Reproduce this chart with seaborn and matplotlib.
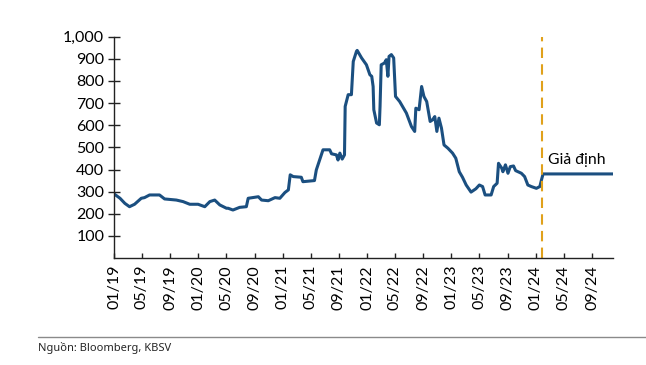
import numpy as np
import pandas as pd
import matplotlib
matplotlib.use("Agg")
import matplotlib.pyplot as plt
import matplotlib.dates as mdates
from matplotlib.ticker import FuncFormatter
import seaborn as sns

# Values
dates = [
    "2019-01-01", "2019-01-27", "2019-02-17", "2019-03-09", "2019-03-31", "2019-04-29",
    "2019-05-13", "2019-06-04", "2019-07-17", "2019-08-08", "2019-09-28", "2019-10-27",
    "2019-11-25", "2019-12-31", "2020-01-29", "2020-02-20", "2020-03-12", "2020-04-03",
    "2020-05-02", "2020-05-09", "2020-05-30", "2020-06-28", "2020-07-27", "2020-08-04",
    "2020-09-17", "2020-10-01", "2020-10-30", "2020-11-28", "2020-12-19", "2021-01-10",
    "2021-01-25", "2021-02-02", "2021-02-15", "2021-03-22", "2021-03-29", "2021-05-18",
    "2021-05-26", "2021-06-24", "2021-07-23", "2021-07-31", "2021-08-21", "2021-08-28",
    "2021-09-05", "2021-09-15", "2021-09-25", "2021-09-28", "2021-10-11", "2021-10-25",
    "2021-11-02", "2021-11-16", "2021-11-19", "2021-12-08", "2021-12-29", "2022-01-13",
    "2022-01-21", "2022-01-27", "2022-01-30", "2022-02-11", "2022-02-23", "2022-02-26",
    "2022-03-03", "2022-03-17", "2022-03-25", "2022-04-01", "2022-04-06", "2022-04-16",
    "2022-04-26", "2022-05-04", "2022-05-22", "2022-06-20", "2022-07-12", "2022-07-26",
    "2022-07-31", "2022-08-14", "2022-08-25", "2022-09-04", "2022-09-16", "2022-10-01",
    "2022-10-11", "2022-10-21", "2022-10-30", "2022-11-08", "2022-11-19", "2022-11-30",
    "2022-12-17", "2023-01-06", "2023-01-20", "2023-02-04", "2023-02-18", "2023-03-06",
    "2023-03-27", "2023-04-17", "2023-05-02", "2023-05-16", "2023-05-27", "2023-06-22",
    "2023-07-03", "2023-07-18", "2023-07-24", "2023-08-07", "2023-08-12", "2023-08-23",
    "2023-09-03", "2023-09-13", "2023-09-27", "2023-10-06", "2023-10-31", "2023-11-14",
    "2023-11-28", "2023-12-13", "2024-01-04", "2024-01-19", "2024-01-26", "2024-02-02",
    "2024-12-01",
]
price = [
    290, 270, 247, 232, 243, 270,
    273, 285, 285, 267, 262, 255,
    243, 243, 232, 255, 262, 240,
    225, 225, 217, 229, 232, 270,
    277, 262, 259, 273, 270, 296,
    308, 376, 368, 365, 345, 350,
    398, 489, 489, 471, 466, 443,
    474, 447, 466, 685, 738, 738,
    888, 934, 938, 904, 873, 828,
    821, 775, 670, 610, 602, 685,
    873, 881, 896, 821, 911, 919,
    904, 730, 707, 655, 594, 572,
    677, 670, 775, 730, 707, 617,
    624, 639, 572, 632, 587, 511,
    496, 474, 451, 390, 365, 330,
    298, 313, 330, 323, 285, 285,
    323, 338, 428, 406, 390, 421,
    383, 413, 416, 395, 383, 368,
    330, 323, 315, 323, 353, 380,
    380,
]
assumption_date = "2024-01-27"
assumption_label = "Giả định"
source_text = "Nguồn: Bloomberg, KBSV"
y_ticks = [100, 200, 300, 400, 500, 600, 700, 800, 900, 1000]

df = pd.DataFrame({"date": pd.to_datetime(dates), "price": price})

sns.set_theme(style="ticks")
plt.rcParams["font.family"] = ["Lato", "DejaVu Sans"]

fig = plt.figure(figsize=(6.46, 3.65), dpi=100)
ax = fig.add_axes([0.1765, 0.293, 0.7725, 0.6065])

sns.lineplot(data=df, x="date", y="price", ax=ax, color="#1B4F80", lw=2.2)
ax.axvline(pd.Timestamp(assumption_date), color="#E0A11B", lw=1.5, ls=(0, (5, 3)))
ax.text(pd.Timestamp("2024-02-22"), 445, assumption_label, fontsize=11.3,
        color="black", ha="left", va="center")

ax.set_xlim(pd.Timestamp("2019-01-01"), pd.Timestamp("2024-12-01"))
ax.set_ylim(0, 1000)
ax.set_yticks(y_ticks)
ax.yaxis.set_major_formatter(FuncFormatter(lambda v, _: f"{int(v):,}"))
ax.xaxis.set_major_locator(mdates.MonthLocator(bymonth=[1, 5, 9]))
ax.xaxis.set_major_formatter(mdates.DateFormatter("%m/%y"))
ax.set_xlabel("")
ax.set_ylabel("")

for s in ["top", "right"]:
    ax.spines[s].set_visible(False)
for s in ["left", "bottom"]:
    ax.spines[s].set_color("#222222")
    ax.spines[s].set_linewidth(1.0)
ax.tick_params(axis="y", direction="inout", length=8, width=1, colors="#222222",
               labelsize=11.5, labelcolor="black", pad=3)
ax.tick_params(axis="x", direction="in", length=3.5, width=1, colors="#222222",
               labelsize=11.5, labelcolor="black", rotation=90, pad=5)

# source footer
fig.add_artist(plt.Line2D([38 / 646, 1.0], [1 - 337 / 365] * 2,
                          color="#8a8a8a", lw=1, transform=fig.transFigure))
fig.text(38 / 646, 1 - 348 / 365, source_text, fontsize=8,
         family=["Noto Sans", "DejaVu Sans"], ha="left", va="center")

fig.savefig("out.png", dpi=100)
